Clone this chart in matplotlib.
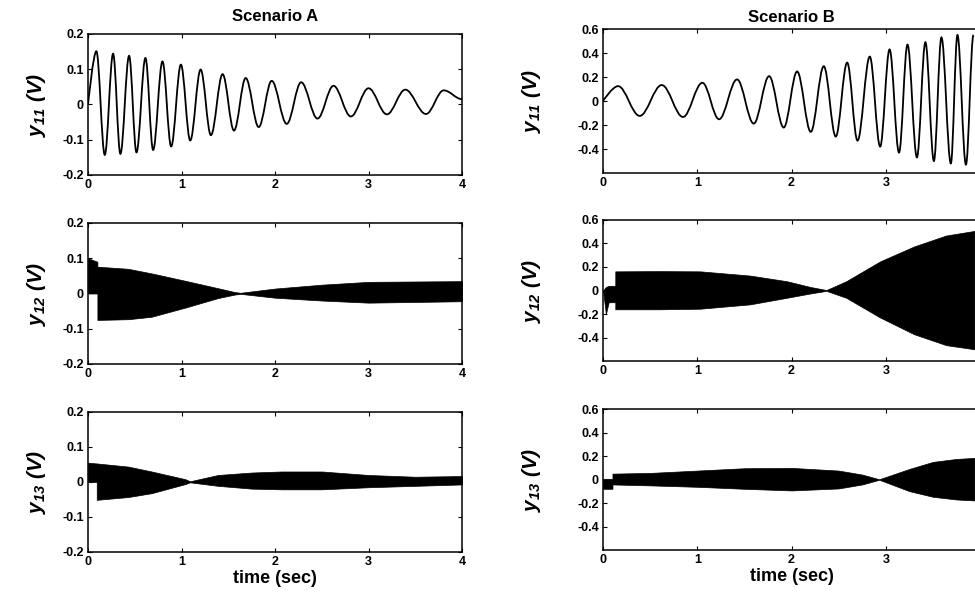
import matplotlib
matplotlib.use("Agg")
import matplotlib.pyplot as plt
from matplotlib.path import Path
from matplotlib.patches import PathPatch

plt.rcParams['font.family'] = ['Liberation Sans', 'DejaVu Sans']
plt.rcParams['mathtext.fontset'] = 'custom'
plt.rcParams['mathtext.rm'] = 'Liberation Sans:bold:italic'
plt.rcParams['mathtext.it'] = 'Liberation Sans:bold:italic'

# ---- data ----
# y11, scenario A: peaks / troughs of the decaying oscillation
t_a11 = [0, 0.089, 0.179, 0.268, 0.346, 0.439, 0.518, 0.614, 0.696, 0.796, 0.889,
         0.993, 1.093, 1.204, 1.314, 1.439, 1.561, 1.686, 1.825, 1.964, 2.125, 2.279,
         2.454, 2.625, 2.811, 3.0, 3.196, 3.393, 3.614, 3.804, 4.0]
y_a11 = [0, 0.151, -0.143, 0.144, -0.140, 0.138, -0.136, 0.132, -0.129, 0.122, -0.119,
         0.113, -0.102, 0.099, -0.087, 0.086, -0.074, 0.075, -0.064, 0.067, -0.055, 0.063,
         -0.040, 0.053, -0.034, 0.046, -0.028, 0.042, -0.027, 0.040, 0.015]

# y11, scenario B: peaks / troughs of the growing oscillation
t_b11 = [0, 0.159, 0.389, 0.623, 0.849, 1.054, 1.231, 1.422, 1.599, 1.762, 1.917,
         2.059, 2.204, 2.342, 2.469, 2.59, 2.70, 2.83, 2.94, 3.04, 3.14, 3.23, 3.33,
         3.42, 3.51, 3.59, 3.69, 3.76, 3.85, 3.93]
y_b11 = [0, 0.124, -0.124, 0.133, -0.133, 0.152, -0.152, 0.18, -0.188, 0.207, -0.221,
         0.246, -0.257, 0.29, -0.296, 0.32, -0.33, 0.37, -0.38, 0.43, -0.43, 0.47, -0.47,
         0.49, -0.50, 0.53, -0.52, 0.55, -0.53, 0.55]

# y12 / y13: dense oscillations, kept as upper / lower envelopes
t_a12 = [0, 0.1, 0.1, 0.43, 0.68, 1.04, 1.39, 1.57, 1.63, 2.0, 2.5, 3.0, 3.5, 4.0]
up_a12 = [0.10, 0.09, 0.076, 0.07, 0.057, 0.036, 0.015, 0.004, 0.002, 0.014, 0.025, 0.033, 0.034, 0.035]
lo_a12 = [0, 0, -0.075, -0.073, -0.066, -0.040, -0.013, -0.003, -0.001, -0.012, -0.02, -0.026, -0.024, -0.022]

t_b12 = [0, 0.03, 0.06, 0.13, 0.13, 0.6, 1.03, 1.56, 1.95, 2.2, 2.37, 2.58, 2.94, 3.30, 3.64, 3.94]
up_b12 = [0, 0.03, 0.04, 0.04, 0.163, 0.165, 0.163, 0.127, 0.079, 0.03, 0.004, 0.079, 0.248, 0.375, 0.468, 0.507]
lo_b12 = [0, -0.20, -0.10, -0.10, -0.16, -0.16, -0.155, -0.118, -0.062, -0.025, -0.003, -0.062, -0.23, -0.372, -0.465, -0.50]

t_a13 = [0, 0.093, 0.093, 0.43, 0.68, 1.04, 1.09, 1.39, 1.75, 2.07, 2.5, 3.0, 3.5, 4.0]
up_a13 = [0.055, 0.053, 0.053, 0.044, 0.030, 0.008, 0.002, 0.020, 0.027, 0.030, 0.030, 0.020, 0.015, 0.017]
lo_a13 = [0, 0, -0.051, -0.043, -0.032, -0.006, -0.001, -0.011, -0.019, -0.021, -0.021, -0.015, -0.011, -0.007]

t_b13 = [0, 0.1, 0.1, 0.5, 1.0, 1.5, 2.0, 2.5, 2.75, 2.93, 3.25, 3.5, 3.75, 3.94]
up_b13 = [0.006, 0.006, 0.05, 0.056, 0.076, 0.096, 0.099, 0.076, 0.042, 0.002, 0.09, 0.15, 0.175, 0.184]
lo_b13 = [-0.079, -0.079, -0.042, -0.05, -0.062, -0.079, -0.093, -0.076, -0.042, -0.002, -0.099, -0.147, -0.17, -0.178]

x_ticks = [0, 1, 2, 3, 4]
a_xlabels = ['0', '1', '2', '3', '4']
b_xlabels = ['0', '1', '2', '3', '']   # the "4" falls off the right edge in the original
a_yticks = [-0.2, -0.1, 0, 0.1, 0.2]
a_ylabels = ['-0.2', '-0.1', '0', '0.1', '0.2']
b_yticks = [-0.4, -0.2, 0, 0.2, 0.4, 0.6]
b_ylabels = ['-0.4', '-0.2', '0', '0.2', '0.4', '0.6']
row_labels = [r'$y_{11}$ (V)', r'$y_{12}$ (V)', r'$y_{13}$ (V)']

fig = plt.figure(figsize=(9.75, 5.97), dpi=100)

# left column (scenario A) and right column (scenario B, runs past the edge)
pos_a = [[0.0903, 0.7069, 0.3836, 0.2362],
         [0.0903, 0.3903, 0.3836, 0.2362],
         [0.0903, 0.0754, 0.3836, 0.2345]]
pos_b = [[0.6185, 0.7102, 0.3867, 0.2412],
         [0.6185, 0.3953, 0.3867, 0.2362],
         [0.6185, 0.0787, 0.3867, 0.2362]]


def extrema_curve(t, y):
    """Smooth curve through peaks/troughs (cubic segments, flat at each extremum)."""
    verts = [(t[0], y[0])]
    codes = [Path.MOVETO]
    for i in range(1, len(t)):
        dx = (t[i] - t[i - 1]) * 0.36
        c1 = (t[i - 1], y[i - 1]) if i == 1 else (t[i - 1] + dx, y[i - 1])
        verts += [c1, (t[i] - dx, y[i]), (t[i], y[i])]
        codes += [Path.CURVE4] * 3
    return Path(verts, codes)


def style_axes(ax, xlabels, yticks, ylabels, ylim, label, label_x):
    ax.set_xlim(0, 4)
    ax.set_ylim(*ylim)
    ax.set_xticks(x_ticks)
    ax.set_xticklabels(xlabels)
    ax.set_yticks(yticks)
    ax.set_yticklabels(ylabels)
    ax.tick_params(direction='in', top=True, right=True, length=3, width=0.8,
                   labelsize=9, pad=3)
    for lab in ax.get_xticklabels() + ax.get_yticklabels():
        lab.set_fontweight('bold')
    for sp in ax.spines.values():
        sp.set_linewidth(1.1)
    ax.set_ylabel(label, fontsize=15, fontweight='bold', style='italic')
    ax.yaxis.set_label_coords(label_x, 0.5)


axes_a = [fig.add_axes(p) for p in pos_a]
axes_b = [fig.add_axes(p) for p in pos_b]

axes_a[0].add_patch(PathPatch(extrema_curve(t_a11, y_a11), fill=False, ec='black', lw=1.3))
axes_b[0].add_patch(PathPatch(extrema_curve(t_b11, y_b11), fill=False, ec='black', lw=1.3))

axes_a[1].fill_between(t_a12, lo_a12, up_a12, color='black', lw=0.5)
axes_b[1].fill_between(t_b12, lo_b12, up_b12, color='black', lw=0.5)
axes_a[2].fill_between(t_a13, lo_a13, up_a13, color='black', lw=0.5)
axes_b[2].fill_between(t_b13, lo_b13, up_b13, color='black', lw=0.5)

for i in range(3):
    style_axes(axes_a[i], a_xlabels, a_yticks, a_ylabels, (-0.2, 0.2), row_labels[i], -0.107)
    style_axes(axes_b[i], b_xlabels, b_yticks, b_ylabels, (-0.6, 0.6), row_labels[i], -0.159)

axes_a[0].set_title('Scenario A', fontsize=12, fontweight='bold', pad=9)
axes_b[0].set_title('Scenario B', fontsize=12, fontweight='bold', pad=5)
axes_a[2].set_xlabel('time (sec)', fontsize=13, fontweight='bold', labelpad=1)
axes_b[2].set_xlabel('time (sec)', fontsize=13, fontweight='bold', labelpad=1)

fig.savefig('out.png', dpi=100)
